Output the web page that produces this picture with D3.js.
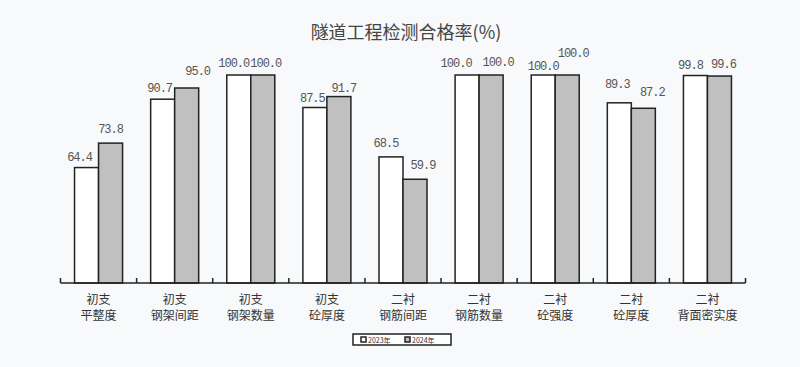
<!DOCTYPE html>
<html><head><meta charset="utf-8">
<script src="https://cdn.jsdelivr.net/npm/d3@7/dist/d3.min.js"></script>
<style>
html,body{margin:0;padding:0;background:#f8f9fb;}
svg{display:block;}
</style></head>
<body><svg id="c" width="800" height="367"></svg>
<script>
const categories = [
  ["初支","平整度"],["初支","钢架间距"],["初支","钢架数量"],["初支","砼厚度"],
  ["二衬","钢筋间距"],["二衬","钢筋数量"],["二衬","砼强度"],["二衬","砼厚度"],["二衬","背面密实度"]
];
const seriesNames = ["2023年","2024年"];
const values2023 = [64.4, 90.7, 100.0, 87.5, 68.5, 100.0, 100.0, 89.3, 99.8];
const values2024 = [73.8, 95.0, 100.0, 91.7, 59.9, 100.0, 100.0, 87.2, 99.6];
const yDomain = [20, 100];
const chartTitle = "隧道工程检测合格率(%)";

// label nudges (layout only): [dx, dy from bar top]
const labelNudge = [
  [[-7,-7],[-3,-7],[-5,-8],[-2.5,-6],[-5,-10],[-11,-8],[0,-5],[-2,-15],[-5,-7]],
  [[0,-10],[11,-13],[3,-8],[5,-5],[8,-10],[7,-9],[6,-18],[9,-12],[4,-8]]
];

(function(){
const svg = d3.select("#c");
const fills = ["#ffffff", "#c0c0c0"];
const mLeft = 60.5, mRight = 745.5, mTop = 75, mBottom = 283;

const x0 = d3.scaleBand().domain(d3.range(categories.length)).range([mLeft, mRight]).padding(0);
const x1 = d3.scaleBand().domain([0,1]).range([0, x0.bandwidth()]).paddingInner(0).paddingOuter(0.585);
const y = d3.scaleLinear().domain(yDomain).range([mBottom, mTop]);

const data = [values2023, values2024];

svg.append("text").attr("x", 406).attr("y", 39).attr("text-anchor","middle")
  .attr("font-family","Noto Sans CJK SC").attr("font-size",18).attr("fill","#444").text(chartTitle);

const g = svg.append("g");
categories.forEach((c, i) => {
  data.forEach((vals, s) => {
    const bx = x0(i) + x1(s);
    g.append("rect").attr("x", bx).attr("y", y(vals[i]))
      .attr("width", x1.bandwidth()).attr("height", y(yDomain[0]) - y(vals[i]))
      .attr("fill", fills[s]).attr("stroke", "#222").attr("stroke-width", 1.5);
  });
});
categories.forEach((c, i) => {
  data.forEach((vals, s) => {
    const bx = x0(i) + x1(s) + x1.bandwidth()/2;
    const n = labelNudge[s][i];
    svg.append("text").attr("x", bx + n[0]).attr("y", y(vals[i]) + n[1])
      .attr("text-anchor","middle").attr("font-family","Liberation Mono")
      .attr("font-size", 12).attr("letter-spacing", -1).attr("fill","#555")
      .text(vals[i].toFixed(1));
  });
});

const bounds = d3.range(categories.length + 1).map(i => i < categories.length ? x0(i) : x0(i-1) + x0.bandwidth());
const ax = svg.append("g");
ax.append("line").attr("x1", mLeft).attr("x2", mRight).attr("y1", mBottom).attr("y2", mBottom)
  .attr("stroke","#222").attr("stroke-width",1.5);
bounds.forEach(bx => {
  ax.append("line").attr("x1", bx).attr("x2", bx).attr("y1", mBottom).attr("y2", mBottom - 5)
    .attr("stroke","#222").attr("stroke-width",1.5);
});
categories.forEach((c, i) => {
  const cx = x0(i) + x0.bandwidth()/2;
  const t = svg.append("text").attr("text-anchor","middle").attr("font-family","Noto Sans CJK SC")
    .attr("font-size", 12).attr("fill","#333");
  t.append("tspan").attr("x", cx).attr("y", 304).text(c[0]);
  t.append("tspan").attr("x", cx).attr("y", 320).text(c[1]);
});

const lg = svg.append("g");
lg.append("rect").attr("x", 353).attr("y", 334).attr("width", 98).attr("height", 11)
  .attr("fill","#fff").attr("stroke","#222").attr("stroke-width",1.5);
const legX = [361, 405];
seriesNames.forEach((nm, s) => {
  lg.append("rect").attr("x", legX[s]).attr("y", 337).attr("width", 5).attr("height", 5)
    .attr("fill", fills[s]).attr("stroke","#222").attr("stroke-width",1.5);
  lg.append("text").attr("x", legX[s] + 7).attr("y", 342.5).attr("font-family","Noto Sans CJK SC")
    .attr("font-size", 7).attr("fill","#333").text(nm);
});
})();
</script></body></html>
